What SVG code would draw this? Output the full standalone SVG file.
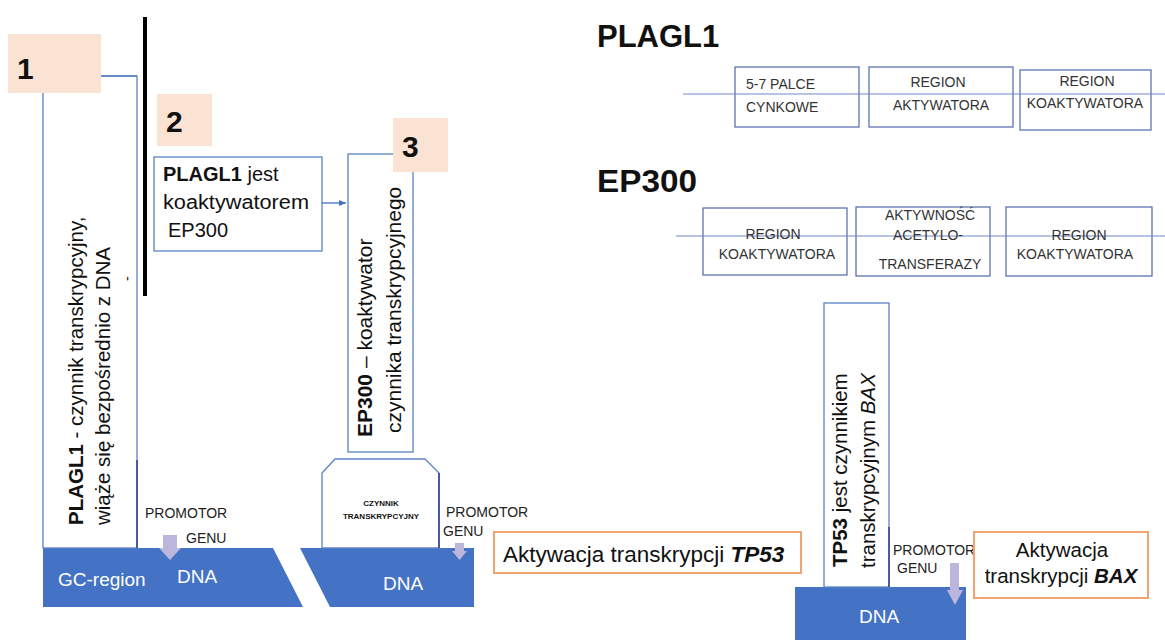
<svg xmlns="http://www.w3.org/2000/svg" width="1165" height="640" viewBox="0 0 1165 640">
<defs>
<style>
text{font-family:"Liberation Sans",Arial,sans-serif;fill:#111}
.box{fill:#fff;stroke:#5b83c7;stroke-width:1.3}
.dom{fill:none;stroke:#5b74b0;stroke-width:1.3}
.pink{fill:#fbe3d4}
.num{font-size:30px;font-weight:bold}
.dna{fill:#4472c4}
.dnat{fill:#fff;font-size:19px}
.vt{font-size:20.5px}
.vt21{font-size:21px}
.prom{font-size:14px;fill:#222}
.pa{fill:#bcb5dc}
.ob{fill:#fff;stroke:#f0a470;stroke-width:2}
.dt{font-size:14px;fill:#333;text-anchor:middle}
.dts{font-size:14px;fill:#333}
.dark{stroke:#2c3f8f;stroke-width:1.5}
</style>
<marker id="ah" markerWidth="8" markerHeight="8" refX="7" refY="4" orient="auto" markerUnits="userSpaceOnUse">
<path d="M0,1 L7,4 L0,7 Z" fill="#4472c4"/>
</marker>
</defs>

<g id="dna1">
<polygon class="dna" points="43,548 273,548 303,607 43,607"/>
<text class="dnat" x="58" y="586">GC-region</text>
<text class="dnat" x="177" y="583">DNA</text>
</g>
<g id="dna2">
<polygon class="dna" points="300,548 474,548 474,607 330,607"/>
<text class="dnat" x="403" y="590" text-anchor="middle">DNA</text>
</g>
<g id="dna3">
<rect class="dna" x="795" y="587" width="171" height="53"/>
<text class="dnat" x="879" y="623" text-anchor="middle">DNA</text>
</g>

<g id="plagl1-factor">
<rect class="box" x="43" y="76" width="94" height="472"/>
<line class="dark" x1="137" y1="460" x2="137" y2="548"/>
<text class="vt" transform="translate(83,525) rotate(-90)"><tspan font-weight="bold">PLAGL1</tspan> - czynnik transkrypcyjny,<tspan x="0" dy="27">wiąże się bezpośrednio z DNA</tspan></text>
<text font-size="14" transform="translate(132,281) rotate(-90)">-</text>
</g>
<g id="label1">
<rect class="pink" x="8" y="34" width="93" height="59"/>
<text class="num" x="17" y="79">1</text>
</g>

<g id="divider">
<line x1="145" y1="17" x2="145" y2="296" stroke="#000" stroke-width="4"/>
</g>

<g id="label2">
<rect class="pink" x="157" y="94" width="55" height="52"/>
<text class="num" x="166" y="132">2</text>
</g>
<g id="plagl1-coactivator">
<rect class="box" x="154" y="157" width="168" height="94"/>
<text font-size="20px" x="163" y="181"><tspan font-weight="bold">PLAGL1</tspan> jest</text>
<text font-size="20px" x="163" y="209" textLength="146" lengthAdjust="spacingAndGlyphs">koaktywatorem</text>
<text font-size="20px" x="168" y="237">EP300</text>
</g>

<g id="ep300-box">
<rect class="box" x="348" y="154" width="65" height="298"/>
<text class="vt21" transform="translate(372,437) rotate(-90)"><tspan font-weight="bold">EP300</tspan> – koaktywator<tspan x="4" dy="29">czynnika transkrypcyjnego</tspan></text>
</g>
<g id="label3">
<rect class="pink" x="393" y="118" width="55" height="54"/>
<text class="num" x="402" y="157">3</text>
</g>

<g id="tf">
<path d="M335,459 L425,459 L439,473 L439,548 L322,548 L322,473 Z" fill="#fff" stroke="#5b83c7" stroke-width="1.3"/>
<line class="dark" x1="439" y1="473" x2="439" y2="548"/>
<text x="381" y="506" font-size="8px" font-weight="bold" fill="#333" text-anchor="middle">CZYNNIK</text>
<text x="381" y="519" font-size="8px" font-weight="bold" fill="#333" text-anchor="middle">TRANSKRYPCYJNY</text>
</g>

<g id="promotor1">
<text class="prom" x="145" y="518">PROMOTOR</text>
<text class="prom" x="186" y="543">GENU</text>
<polygon class="pa" points="163,535 177,535 177,548 181,548 170,560 159,548 163,548"/>
</g>
<g id="promotor2">
<text class="prom" x="446" y="517">PROMOTOR</text>
<text class="prom" x="443" y="536">GENU</text>
<polygon class="pa" points="455,543 464,543 464,551 467,551 459.5,560 452,551 455,551"/>
</g>

<g id="tp53-activation">
<rect class="ob" x="494" y="532" width="307" height="41"/>
<text x="503" y="562" font-size="22.5px">Aktywacja transkrypcji <tspan font-weight="bold" font-style="italic">TP53</tspan></text>
</g>

<g id="tp53-box">
<rect class="box" x="824" y="303" width="65" height="284"/>
<line class="dark" x1="889" y1="527" x2="889" y2="587"/>
<text class="vt" transform="translate(847,567) rotate(-90)"><tspan font-weight="bold">TP53</tspan> jest czynnikiem<tspan x="-1" dy="28">transkrypcyjnym <tspan font-style="italic">BAX</tspan></tspan></text>
</g>

<g id="promotor3">
<text class="prom" x="893" y="555">PROMOTOR</text>
<text class="prom" x="897" y="573">GENU</text>
<polygon class="pa" points="950,563 959,563 959,590 963,590 955,605 947,590 950,590"/>
</g>

<g id="bax-activation">
<rect class="ob" x="974" y="532" width="174" height="66"/>
<text x="1062" y="557" font-size="20.5px" text-anchor="middle">Aktywacja</text>
<text x="1061" y="583" font-size="20.5px" text-anchor="middle">transkrypcji <tspan font-weight="bold" font-style="italic">BAX</tspan></text>
</g>

<g id="plagl1-title">
<text x="597" y="47" font-size="31px" font-weight="bold">PLAGL1</text>
</g>
<g id="plagl1-domains">
<rect class="dom" x="735" y="67" width="124" height="60"/>
<rect class="dom" x="869" y="67" width="144" height="60"/>
<rect class="dom" x="1020" y="70" width="131" height="60"/>
<line x1="683" y1="94" x2="1165" y2="94" stroke="#6f88c8" stroke-width="1"/>
<text class="dts" x="746" y="89">5-7 PALCE</text>
<text class="dts" x="746" y="112">CYNKOWE</text>
<text class="dt" x="938" y="87">REGION</text>
<text class="dt" x="941" y="110">AKTYWATORA</text>
<text class="dt" x="1087" y="86">REGION</text>
<text class="dt" x="1085" y="108">KOAKTYWATORA</text>
</g>

<g id="ep300-title">
<text x="597" y="192" font-size="31px" font-weight="bold" textLength="100" lengthAdjust="spacingAndGlyphs">EP300</text>
</g>
<g id="ep300-domains">
<rect class="dom" x="703" y="208" width="144" height="67"/>
<rect class="dom" x="856" y="207" width="134" height="69"/>
<rect class="dom" x="1006" y="207" width="146" height="69"/>
<line x1="676" y1="236" x2="1165" y2="236" stroke="#6f88c8" stroke-width="1"/>
<text class="dt" x="773" y="239">REGION</text>
<text class="dt" x="777" y="259">KOAKTYWATORA</text>
<text class="dt" x="930" y="220">AKTYWNOŚĆ</text>
<text class="dt" x="928" y="240">ACETYLO-</text>
<text class="dt" x="930" y="269">TRANSFERAZY</text>
<text class="dt" x="1079" y="240">REGION</text>
<text class="dt" x="1075" y="259">KOAKTYWATORA</text>
</g>

<g id="connectors">
<line x1="322" y1="203" x2="346" y2="203" stroke="#4472c4" stroke-width="1.3" marker-end="url(#ah)"/>
<polyline points="101,76 137,76" fill="none" stroke="#5b83c7" stroke-width="1.3"/>
</g>
</svg>
